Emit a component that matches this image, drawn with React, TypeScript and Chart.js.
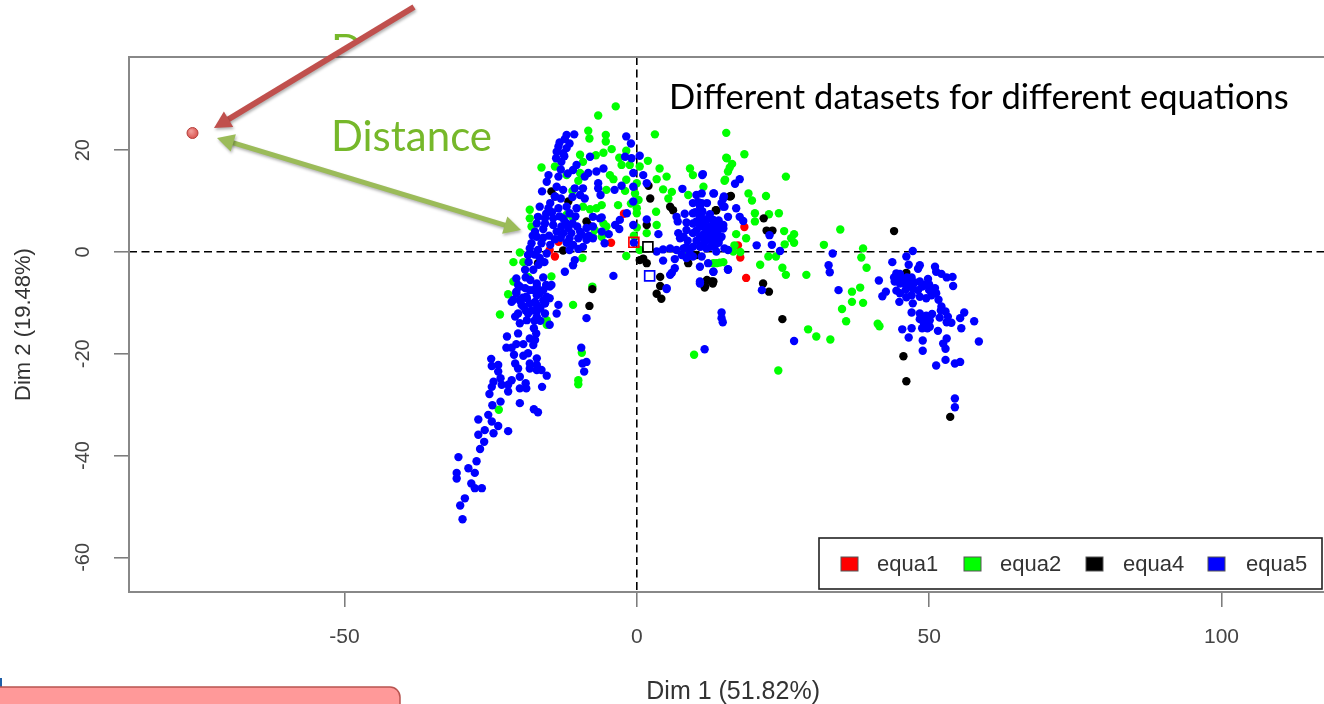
import React, { useEffect, useRef } from "react";
import { Chart, registerables } from "chart.js";

Chart.register(...registerables);

const xTicks = [-50, 0, 50, 100];
const yTicks = [-60, -40, -20, 0, 20];
const legendLabels = ["equa1", "equa2", "equa4", "equa5"];
const legendColors = ["#ff0000", "#00ff00", "#000000", "#0000ff"];

const equa1: number[][] = [
  [18.4,4.9],[17.3,1.3],[17.7,-1.1],[18.7,-5.1],[-2.2,7.5],[-4.4,1.8],[-13.4,2],[-14,-0.9],[-14.9,0.4],
];

const equa2: number[][] = [
  [15.3,23.4],[18.4,19.2],[15.3,18.5],[16.3,17.3],[15.9,16.6],[15.6,15.8],[15,14],[25.5,14.8],[19.1,11.5],[19.7,10.1],
  [22.1,11],[20.2,7.6],[20.2,6],[22.6,7.4],[24.3,7.6],[25.2,4.1],[26.9,3.5],[26.4,2.7],[26.9,1.8],[25.3,1.5],
  [18.7,2.7],[17,3.5],[16.7,1.3],[16.5,0.1],[17.7,0],[22.5,-0.9],[23.8,-0.9],[21.1,-2.5],[24.9,-3.1],[25.5,-4.5],
  [29,-4.5],[34.8,4.4],[32,1.4],[38.7,0.7],[38.4,-1.1],[39.3,-3.1],[38.2,-7],[36.8,-7.8],[36.8,-9.8],[38.7,-10],
  [35.1,-11.2],[35.8,-13.6],[41.2,-14.1],[41.5,-14.6],[29.3,-15.2],[30.7,-16.6],[33.1,-17.2],[24.2,-23.3],[14.2,-2.1],[13.1,-2.2],
  [-3.6,28.6],[-6.6,26.8],[3.1,23.1],[-8.3,23.8],[-8.1,22.3],[-5.3,23],[-5.3,21.7],[-4.3,20.2],[-5.7,19.5],[-1.8,19.9],
  [-9.7,19.1],[-9.2,17.7],[1.9,17.9],[-2.6,17.1],[-1.2,17.1],[0.5,16.8],[-16.3,16.6],[-14,16.8],[3.9,16.4],[9.1,16.4],
  [9.6,15.1],[15.1,14.2],[15.4,18.4],[5.1,14.8],[3.4,14.3],[-4.6,15.1],[-4,14.3],[-12,15.1],[-9.7,15.5],[-1.8,14.2],
  [0,13.5],[4.5,12.3],[6,11.8],[-5.2,12.2],[-0.3,11.5],[0.3,10.2],[5.4,10.5],[11.4,12.8],[8.8,11.2],[-3.2,9.2],
  [0,8.6],[0,7.6],[-9.2,8.9],[-6,9.2],[-6.9,8.6],[-8,8.4],[-18.3,8.3],[-12,7.3],[-10.9,6.6],[-18.3,6.6],
  [3.3,7.9],[3.4,5.3],[-5.7,5.6],[-7.2,4.3],[-5.2,5],[-6,3],[1.7,3.7],[-18,5],[-20,-0.1],[-21.1,-2],
  [-19.4,-2],[-1.8,-0.8],[-9.3,-1.2],[0.5,0.4],[13.6,-2.2],[14.8,-2],[8.8,-0.3],[-21.1,-5.8],[-22,-8.3],[-14.6,-4.8],
  [-10.9,-10.4],[-7.6,-6.8],[-23.4,-12.3],[-15.4,-13.4],[-15.4,-14.3],[-9.4,-19.8],[-10,-25.2],[-10,-26],[-23.6,-31],[9.8,-20.2],
  [-18.6,-4.9],[-3,18.5],[-2,12],[-1,9.5],[-7,19],[-10,14],[-11,12],[-7.5,3],[0,4.8],[-0.5,3.2],
];

const equa4: number[][] = [
  [16.1,11],[13.5,8.2],[21.7,6.6],[22.2,4.2],[23.2,4.2],[44,4.1],[46.1,-4.1],[21.6,-6.2],[22.6,-7.8],[24.9,-13.2],
  [45.6,-20.5],[46.1,-25.4],[53.6,-32.4],[11.6,-7],[12.8,-5.8],[13,-6.2],[2,13],[2.3,10.5],[1.7,5.3],[-8.6,6],
  [-8.3,5.3],[-11.7,9.9],[-14.6,11.9],[-14,10.9],[5.7,8.9],[6.2,8.2],[13.6,8.2],[-12.6,0.3],[-16.9,-2.2],[0.5,-1.6],
  [1.7,-2.2],[1.1,-1.3],[-7.6,-7.3],[-8.1,-10.6],[4,-4.9],[3.4,-8.2],[4.2,-9.2],[12,-5.5],[13.1,-5.8],[11.7,-6.8],
  [8.8,-2.2],[10.2,-0.6],[15.9,10.9],[4,-6.7],
];

const equa5: number[][] = [
  [33.5,-0.3],[32.8,-2.6],[33,-4],[34.5,-7.5],[47.2,0.2],[46.1,-0.9],[46.5,-2.5],[43.7,-2],[48.4,-2.6],[48.1,-3.3],
  [51,-2.9],[51.2,-3.9],[52.1,-4.3],[53,-5],[54,-4.9],[54.1,-6.7],[41.4,-5.6],[44.4,-4.2],[45,-4.3],[44.1,-5.8],
  [45,-6.2],[45.8,-6.2],[46.7,-6.4],[47.5,-6],[48.4,-5.8],[49.8,-5.3],[49.1,-6.5],[48.1,-7.5],[47.2,-7.2],[51,-7.1],
  [51.2,-8.1],[50.4,-8.5],[49.5,-9.1],[48.4,-8.8],[47.2,-10.1],[46.1,-8.9],[44.9,-9.8],[45,-8.1],[44.4,-7.6],[42.6,-7.8],
  [42,-8.7],[51.6,-9.4],[52.1,-10.7],[52.8,-11.7],[53.2,-12.7],[51.8,-12.9],[53.8,-13.9],[56,-11.9],[55.3,-13],[57.7,-13.6],
  [55.5,-15],[47,-11.9],[48.4,-12.1],[48.4,-13.2],[49.2,-13.1],[50.1,-13.4],[49.1,-14],[50.1,-14.7],[51.5,-15.5],[45.4,-15.2],
  [47,-15],[46.5,-16.8],[48.9,-17.4],[48.9,-19.4],[53,-17],[52.4,-18],[52.8,-19],[58.5,-17.6],[52.8,-21.2],[51.2,-22.3],
  [54.4,-21.9],[55.3,-21.6],[54.4,-28.8],[54.4,-30.5],[26.9,-17.5],[11.6,-19.1],[14.5,-11.9],[14.5,-13],[14.7,-13.8],[21.4,-7.5],
  [15.6,-3.4],[13.1,-3.9],[24.5,0.2],[23.1,1.4],[20.5,1.3],[22.7,3.3],[17.6,14.3],[16.8,13.4],[11.2,15.1],[13.2,11.5],
  [14.9,10.9],[14.5,9.6],[15,8.9],[17,8.6],[17.6,6.9],[18.2,6.1],[15.6,6.9],[11.1,11.5],[11.1,9.6],[11.1,7.6],
  [11.3,6.3],[12.2,6.6],[13.1,6.3],[11.6,5],[12.8,4.6],[13.9,5],[14.8,4.6],[11.1,3],[12.2,2.4],[13.3,3],
  [14.2,2.7],[15,0.7],[13.3,1.1],[11.9,0.7],[11.1,1.1],[13.6,0.1],[11.1,-0.9],[12.2,-2.2],
  [-10.7,23.1],[-12.3,22.2],[-11.5,21.3],[-13.4,20.7],[-12,20.4],[-13.7,19.7],[-12.6,19.4],[-13.8,18.4],[-12.9,17.7],[-1.8,22.7],
  [-1,21.3],[-8,18.7],[-2,18.7],[-0.9,18.4],[0.5,18.9],[-10.3,17.1],[-10.9,16.1],[-5.7,16.4],[-6.9,15.8],[-8.3,15.5],
  [-8.9,14.8],[-15.1,15.1],[-13.4,14.8],[-0.6,15.5],[1.1,15.1],[1.7,13.5],[-6.6,13.5],[-6.6,12.5],[-2.6,13],[-3.8,12.2],
  [-0.6,12.8],[-15.4,13.8],[-16.2,11.9],[-13.7,12.8],[-12.6,12.2],[-10.6,12.5],[-9.2,12.5],[-9.7,11.2],[-8.9,10.5],[-6.2,11.2],
  [-0.6,9.9],[-14,10.9],[-14.8,9.6],[-16.6,8.9],[-15.1,8.6],[-13.4,8.6],[-12,8.9],[-10.3,8.6],[-11.5,7.6],[-16.9,6.9],
  [-15.7,6.6],[-14.3,6.6],[-12.6,6.6],[-7.5,6.9],[-6.3,6.6],[-1.7,7.6],[-2.9,6.3],[-3.7,5.3],[1.7,6.4],[-17.1,5.6],
  [-15.7,5.6],[-14.3,5.3],[-12.9,5],[-11.7,4.7],[-13.7,4],[-12.6,3.7],[-11.2,3.7],[-9.7,4],[-8.6,4.7],[-7.5,5],
  [-0.6,5.3],[3.7,3.5],[-17.4,4],[-17.1,3],[-18,1.7],[-16.3,1.7],[-14.8,1.4],[-11.5,2.7],[-10,2.7],[-8.6,2.4],
  [-7.5,2.7],[-10.9,1.4],[-9.2,1],[-5.5,1.7],[-0.5,1.8],[-18.3,0.7],[-16.9,0.4],[-15.4,-0.3],[-18.6,-0.6],[-16.6,-1.2],
  [-10.6,-1.6],[-10.9,-2.6],[-12.3,-3.9],[-4,-4.7],[-19.1,-3.5],[-17.7,-3.5],[-20.6,-5.2],[-20.3,-6.5],[-19.1,-7.1],[-20.6,-8.1],
  [-21.1,-9.4],[-17.1,-6.2],[-17.7,-7.5],[-16.6,-8.1],[-14.9,-6.8],[-18.8,-9.1],[-17.4,-9.8],[-15.7,-10.1],[-19.4,-10.7],
  [4.5,0.5],[5.7,0.7],[6.8,0.4],[3.4,0.1],[7.7,-0.6],[8.5,-1.2],[4.5,-1.7],[6.5,-1.4],[6.5,-3.2],[6,-4.1],
  [5.1,-7.1],[10.8,-2.9],[10.8,-5.8],[13.1,-3.9],[15.6,-3.5],[7.8,12.4],[11.3,15.3],[10.2,11.2],[13.1,11.5],[14.8,10.5],
  [6.8,6.9],[7,6],[7.1,3.7],[7.4,2.7],[8.5,4.3],[9.6,9.6],[9.6,7.6],[9.6,5.6],[9.6,3.7],[10.8,8.9],
  [10.8,6.9],[10.8,5],[10.8,3],[10.8,1],[11.9,6.3],[11.9,4.3],[11.9,2.4],[13.1,5.6],[13.1,3.7],[13.1,1.7],
  [9.6,1],[9.6,-0.9],[8.5,1],[8,0.7],[14.8,5.3],[14.8,8.9],[14.5,3],[15.6,0.4],
  [-8.6,-13],[-13.4,-10.4],[-13.7,-12.1],[-14.9,-14.3],[-17.6,-15],[-17.2,-16],[-20.3,-16],[-22.2,-16.6],[-18.3,-17],[-17.4,-17.3],
  [-20.6,-18.1],[-19.4,-18.1],[-17.7,-18.3],[-22.3,-18.8],[-21.4,-18.8],[-18.6,-19.9],[-19.4,-20.4],[-21,-20.2],[-9.5,-18.8],[-24.9,-21],
  [-17.1,-20.9],[-20.8,-21.9],[-8.6,-21.6],[-9.3,-21.9],[-24.8,-22.4],[-23.7,-22.2],[-20.3,-22.9],[-18.3,-21.9],[-17.1,-22.2],[-18.3,-22.9],
  [-17.1,-23.2],[-16.3,-23.2],[-15.4,-24.3],[-9,-23.5],[-23.7,-23.5],[-23.3,-24.8],[-20,-24.5],[-21.4,-25.2],[-24.5,-25.5],[-24.8,-26.5],
  [-23.1,-26.1],[-22,-26.1],[-22,-27.4],[-20,-26.8],[-18.9,-26.8],[-19,-25.8],[-16.2,-26.5],[-25.2,-27.9],[-23.3,-29.4],[-24.7,-30.1],
  [-20,-29.7],[-17.6,-30.9],[-16.9,-31.5],[-25.4,-32],[-27.1,-32.9],[-23.7,-34.2],[-24.8,-33.3],[-24.5,-35.6],[-26,-35],[-27.1,-35.9],
  [-22,-35.2],[-26.1,-37.3],[-26.8,-38.7],[-30.5,-40.3],[-27.4,-41.1],[-28.8,-42.5],[-27.7,-43.4],[-30.8,-43.4],[-30.8,-44.5],[-28.3,-45.5],
  [-27.7,-46.4],[-26.5,-46.4],[-29.4,-48.4],[-30.2,-49.8],[-29.8,-52.5],
  [-17.1,-6.8],[-18.3,-7.5],[-16,-7.5],[-17.1,-8.5],[-18.9,-8.8],[-15.4,-8.8],[-20.6,-7.8],[-20,-6.8],[-21.4,-9.8],[-19.7,-10.4],
  [-18.3,-10.1],[-17.1,-10.4],[-15.7,-10.1],[-20.3,-12.1],[-18.6,-12.1],[-17.1,-11.7],[-15.7,-12.1],[-20.8,-12.7],[-20,-14],[-18.8,-13.4],
  [-17.1,-12.7],[-14.6,-6.5],[-14.9,-9.1],[5.1,-7.3],[5.7,-4.5],[10.8,-6.2],
  [-16,4.5],[-15,3.2],[-14,2.5],[-13,2.8],[-12,1.8],[-16,2.8],[-17.8,3.2],[-15.5,7.5],[-14.5,7.8],[-13.2,7],
  [-12.2,5.8],[-11,5.6],[-10.2,5],[-9.4,3.4],[-8.2,3.2],[-10,0.6],[-11.5,0.4],[-17.5,-0.5],[-16.8,-2.5],[-15.8,-2],
  [-18.5,-2],[-19,-5],[-18.2,-5.5],[-16,-5],[-15.5,-6.5],[-19.5,-9],[-16.5,-11],[-16,-9.5],[-18,-11.5],[-19,-11.5],
  [-20,-9.5],[-17.5,-13.5],[-16.5,-13.5],[8.2,7.5],[8.5,5.8],[8,3],[8.7,2.2],[9,0],[10,7.8],[10.2,6],
  [10.2,4.2],[10.2,2.2],[11.2,8],[11.4,5.5],[11.4,3.5],[11.5,1.8],[12.5,7.4],[12.5,5],[12.5,3.3],[12.6,1],
  [13.8,4],[14,6.2],[14,1.8],[10.5,9.8],[12,9.6],[46.2,-5],[47,-5],[48.8,-6.8],[46,-7.4],[47,-8.5],
  [50,-6.4],[45.3,-5.3],[49.5,-12.5],[50.5,-12.2],[49.7,-15],[48.8,-15],[52,-11.5],[53,-13.8],[50,-7.5],[44,-5],
  [-13,16.2],[-12.4,18.8],[-13.2,21.5],[-12,23],[-11.8,15.4],
  [-3,4.5],[-6,4],[-4.8,3.5],[-13,10.5],[-11,10.8],[-10.5,7],[-6,6.8],
];

const centerPoints: number[][] = [[-0.5,1.9],[1.9,1],[2.2,-4.7]];
const centerColors = ["#ff0000", "#000000", "#0000ff"];

const toXY = (rows: number[][]) => rows.map(([x, y]) => ({ x, y }));

const decorations = {
  id: "decorations",
  beforeDatasetsDraw(chart: any) {
    const { ctx, chartArea: a } = chart;
    ctx.save();
    ctx.strokeStyle = "#888888";
    ctx.lineWidth = 2;
    ctx.strokeRect(a.left, a.top, a.right - a.left, a.bottom - a.top);
    ctx.restore();
  },
  afterDatasetsDraw(chart: any) {
    const { ctx } = chart;
    ctx.save();
    // legend box
    ctx.fillStyle = "#ffffff";
    ctx.strokeStyle = "#222222";
    ctx.lineWidth = 1.6;
    ctx.fillRect(819, 538, 503, 51);
    ctx.strokeRect(819, 538, 503, 51);
    const swatchX = [841, 964, 1086, 1208];
    const textX = [877, 1000, 1123, 1246];
    ctx.font = '22px "Liberation Sans"';
    ctx.textBaseline = "middle";
    legendLabels.forEach((label, i) => {
      ctx.fillStyle = legendColors[i];
      ctx.fillRect(swatchX[i], 557, 17, 14);
      ctx.strokeStyle = "#555555";
      ctx.lineWidth = 1;
      ctx.strokeRect(swatchX[i], 557, 17, 14);
      ctx.fillStyle = "#333333";
      ctx.fillText(label, textX[i], 565);
    });

    const arrow = (x1: number, y1: number, x2: number, y2: number, w: number, color: string, both: boolean) => {
      const ang = Math.atan2(y2 - y1, x2 - x1);
      const head = 17;
      const hw = 9;
      ctx.fillStyle = color;
      ctx.strokeStyle = color;
      ctx.lineWidth = w;
      ctx.beginPath();
      const sx = both ? x1 + Math.cos(ang) * head * 0.8 : x1;
      const sy = both ? y1 + Math.sin(ang) * head * 0.8 : y1;
      ctx.moveTo(sx, sy);
      ctx.lineTo(x2 - Math.cos(ang) * head * 0.8, y2 - Math.sin(ang) * head * 0.8);
      ctx.stroke();
      const tip = (tx: number, ty: number, a0: number) => {
        ctx.beginPath();
        ctx.moveTo(tx, ty);
        ctx.lineTo(tx - Math.cos(a0) * head + Math.sin(a0) * hw, ty - Math.sin(a0) * head - Math.cos(a0) * hw);
        ctx.lineTo(tx - Math.cos(a0) * head - Math.sin(a0) * hw, ty - Math.sin(a0) * head + Math.cos(a0) * hw);
        ctx.closePath();
        ctx.fill();
      };
      tip(x2, y2, ang);
      if (both) tip(x1, y1, ang + Math.PI);
    };

    // clipped copy of the hidden word above the plot
    ctx.save();
    ctx.beginPath();
    ctx.rect(320, 30, 37, 10);
    ctx.rect(405, 30, 25, 10);
    ctx.clip();
    ctx.fillStyle = "#76b82a";
    ctx.font = '42px "Lato"';
    ctx.textBaseline = "alphabetic";
    ctx.fillText("Distance", 331, 65);
    ctx.restore();

    ctx.shadowColor = "rgba(0,0,0,0.3)";
    ctx.shadowBlur = 3;
    ctx.shadowOffsetX = 1;
    ctx.shadowOffsetY = 2;
    arrow(414, 7, 214, 128, 6, "#c0504d", false);
    arrow(217, 138, 521, 230, 5, "#9bbb59", true);
    ctx.shadowColor = "transparent";

    // red marker
    const g = ctx.createRadialGradient(191, 131, 1, 192.5, 133, 6);
    g.addColorStop(0, "#f09a96");
    g.addColorStop(1, "#d8504c");
    ctx.fillStyle = g;
    ctx.strokeStyle = "#b5403c";
    ctx.lineWidth = 1;
    ctx.beginPath();
    ctx.arc(192.5, 133, 5.5, 0, Math.PI * 2);
    ctx.fill();
    ctx.stroke();

    // annotations
    ctx.textBaseline = "alphabetic";
    ctx.fillStyle = "#76b82a";
    ctx.font = '42px "Lato"';
    ctx.fillText("Distance", 331, 151);
    ctx.fillStyle = "#000000";
    ctx.font = '34.5px "Lato"';
    ctx.fillText("Different datasets for different equations", 669, 109);

    // box at the bottom
    ctx.fillStyle = "#1f5fa8";
    ctx.fillRect(0, 678, 2, 10);
    ctx.fillStyle = "#ff9999";
    ctx.strokeStyle = "#b85450";
    ctx.lineWidth = 1.5;
    ctx.beginPath();
    ctx.roundRect(-20, 687, 420, 40, 10);
    ctx.fill();
    ctx.stroke();
    ctx.restore();
  },
};

export default function App() {
  const ref = useRef<HTMLCanvasElement>(null);
  useEffect(() => {
    document.body.style.margin = "0";
    const point = (label: string, rows: number[][], color: string) => ({
      label,
      data: toXY(rows),
      backgroundColor: color,
      borderColor: color,
      pointRadius: 4.2,
      pointBorderWidth: 0,
    });
    const chart = new Chart(ref.current as HTMLCanvasElement, {
      type: "scatter",
      data: {
        datasets: [
          {
            label: "centers",
            data: toXY(centerPoints),
            backgroundColor: "rgba(255,255,255,0)",
            borderColor: centerColors,
            pointStyle: "rect",
            pointRadius: 7,
            pointBorderWidth: 1.7,
          },
          point(legendLabels[3], equa5, legendColors[3]),
          point(legendLabels[2], equa4, legendColors[2]),
          point(legendLabels[1], equa2, legendColors[1]),
          point(legendLabels[0], equa1, legendColors[0]),
        ] as any,
      },
      plugins: [decorations],
      options: {
        animation: false,
        responsive: false,
        layout: { padding: { top: 57, right: 0, bottom: 0, left: 0 } },
        plugins: { legend: { display: false }, tooltip: { enabled: false } },
        scales: {
          x: {
            type: "linear",
            min: -86.84,
            max: 119.8,
            afterBuildTicks: (s: any) => {
              s.ticks = xTicks.map((value) => ({ value }));
            },
            afterFit: (s: any) => {
              s.height = 112;
            },
            border: {
              display: false,
              dash: (c: any) => (c.tick && c.tick.value === 0 ? [8, 4.5] : []),
            },
            grid: {
              tickLength: 15,
              lineWidth: 1.6,
              tickWidth: 1.5,
              tickColor: "#777777",
              color: (c: any) => (c.tick && c.tick.value === 0 ? "#000000" : "rgba(0,0,0,0)"),
            },
            ticks: {
              autoSkip: false,
              maxRotation: 0,
              minRotation: 0,
              padding: 18,
              color: "#444444",
              font: { family: '"Liberation Sans"', size: 21 },
              callback: (v: any) => String(v),
            },
            title: {
              display: true,
              text: "Dim 1 (51.82%)",
              color: "#333333",
              font: { family: '"Liberation Sans"', size: 25 },
              padding: { top: 0, bottom: -3 },
            },
          },
          y: {
            type: "linear",
            min: -66.8,
            max: 38.3,
            afterBuildTicks: (s: any) => {
              s.ticks = yTicks.map((value) => ({ value }));
            },
            afterFit: (s: any) => {
              s.width = 129;
            },
            border: {
              display: false,
              dash: (c: any) => (c.tick && c.tick.value === 0 ? [8, 4.5] : []),
            },
            grid: {
              tickLength: 15,
              lineWidth: 1.6,
              tickWidth: 1.5,
              tickColor: "#777777",
              color: (c: any) => (c.tick && c.tick.value === 0 ? "#000000" : "rgba(0,0,0,0)"),
            },
            ticks: {
              autoSkip: false,
              minRotation: 90,
              maxRotation: 90,
              crossAlign: "center",
              padding: 16,
              color: "#444444",
              font: { family: '"Liberation Sans"', size: 20 },
              callback: (v: any) => String(v),
            },
            title: {
              display: true,
              text: "Dim 2 (19.48%)",
              color: "#333333",
              font: { family: '"Liberation Sans"', size: 22 },
              padding: { top: 11, bottom: 0 },
            },
          },
        },
      } as any,
    });
    return () => chart.destroy();
  }, []);
  return (
    <div style={{ position: "relative", width: 1324, height: 704, overflow: "hidden", background: "#ffffff" }}>
      <canvas ref={ref} width={1346} height={704} style={{ display: "block" }} />
    </div>
  );
}
